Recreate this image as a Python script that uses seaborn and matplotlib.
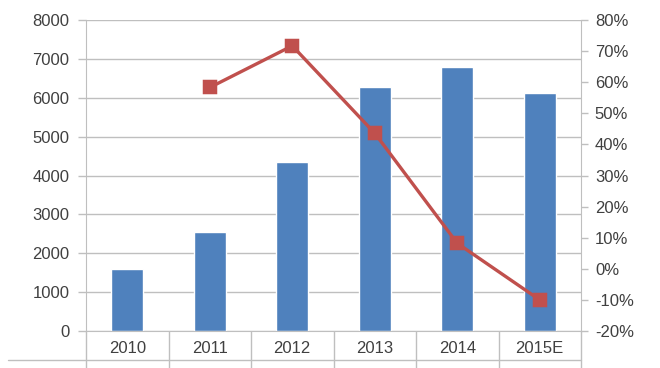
import matplotlib
matplotlib.use("Agg")
import matplotlib.pyplot as plt
import matplotlib.ticker as mticker
from matplotlib.lines import Line2D
import numpy as np
import pandas as pd
import seaborn as sns

# data
years = ["2010", "2011", "2012", "2013", "2014", "2015E"]
sales = [1600, 2550, 4350, 6280, 6790, 6120]
growth = [np.nan, 58.3, 71.7, 43.6, 8.2, -10.0]  # percent

bar_color = "#4F81BD"
line_color = "#C0504D"
grid_color = "#BFBFBF"
text_color = "#404040"

sns.set_style("white")
plt.rcParams["font.family"] = ["Liberation Sans", "DejaVu Sans"]

fig = plt.figure(figsize=(6.6, 3.68), dpi=100)
ax = fig.add_axes([86 / 660, 1 - 331 / 368, (581 - 86) / 660, (331 - 20) / 368])

df = pd.DataFrame({"year": years, "sales": sales, "growth": growth})

# bars on the left axis
sns.barplot(data=df, x="year", y="sales", order=years, color=bar_color,
            saturation=1, width=0.39, ax=ax, zorder=2)
ax.set_ylim(0, 8000)
ax.set_xlim(-0.5, len(years) - 0.5)
ax.yaxis.set_major_locator(mticker.MultipleLocator(1000))
ax.grid(axis="y", color=grid_color, lw=1, zorder=0)
ax.set_axisbelow(True)
ax.set_xlabel("")
ax.set_ylabel("")

# category separators below the axis
ax.set_xticks(np.arange(len(years)))
ax.set_xticklabels(years)
ax.set_xticks(np.arange(len(years) + 1) - 0.5, minor=True)
ax.tick_params(axis="x", which="major", bottom=False, length=0, pad=7,
               labelsize=12, labelcolor=text_color)
ax.tick_params(axis="x", which="minor", bottom=True, length=27, width=1,
               color=grid_color, direction="out")
ax.tick_params(axis="y", left=True, length=6, width=1, color=grid_color,
               labelsize=12, labelcolor=text_color, pad=6)

for side in ["top", "right"]:
    ax.spines[side].set_visible(False)
ax.spines["left"].set_color(grid_color)
ax.spines["bottom"].set_color(grid_color)

# growth line on the right axis
ax2 = ax.twinx()
sns.pointplot(data=df, x="year", y="growth", order=years, color=line_color,
              markers="s", markersize=9, linewidth=2.4, errorbar=None, ax=ax2)
ax2.set_ylim(-20, 80)
ax2.yaxis.set_major_locator(mticker.MultipleLocator(10))
ax2.yaxis.set_major_formatter(mticker.FuncFormatter(lambda v, p: f"{v:.0f}%"))
ax2.set_xlim(-0.5, len(years) - 0.5)
ax2.set_ylabel("")
ax2.set_xlabel("")
ax2.tick_params(axis="y", right=True, length=5, width=1, color=grid_color,
                labelsize=12, labelcolor=text_color, pad=5)
for side in ["top", "bottom", "left"]:
    ax2.spines[side].set_visible(False)
ax2.spines["right"].set_color(grid_color)

# bottom border line of the category table
fig.add_artist(Line2D([8 / 660, 581 / 660], [1 - 360 / 368, 1 - 360 / 368],
                      color=grid_color, lw=1))

fig.savefig("out.png", dpi=100)
